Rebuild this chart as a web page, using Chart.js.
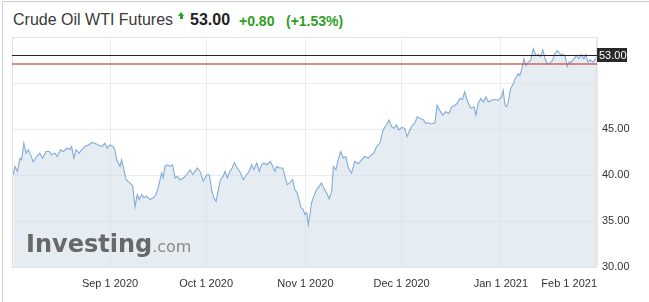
<!DOCTYPE html>
<html><head><meta charset="utf-8">
<script src="https://cdn.jsdelivr.net/npm/chart.js@4.4.0/dist/chart.umd.min.js"></script>
<style>
html,body{margin:0;padding:0;background:#fff;}
#wrap{position:relative;width:649px;height:302px;overflow:hidden;font-family:"Liberation Sans",Arial,sans-serif;}
#frame{position:absolute;left:2px;top:1px;width:660px;height:310px;border-left:1px solid #cfcfcf;border-top:1px solid #cfcfcf;}
.t{position:absolute;white-space:nowrap;line-height:20px;}
#name{left:13px;top:10px;font-size:16px;color:#3a3a3a;}
#last{left:190px;top:10px;font-size:16px;font-weight:bold;color:#222;}
#chg{left:239px;top:11px;font-size:14px;font-weight:bold;color:#2f9e26;}
#pct{left:286px;top:11px;font-size:14px;font-weight:bold;color:#2f9e26;}
#arrow{position:absolute;left:178px;top:12px;width:0;height:0;border-left:3.5px solid transparent;border-right:3.5px solid transparent;border-bottom:4px solid #2f9e26;}
#stem{position:absolute;left:180px;top:16px;width:3px;height:3px;background:#2f9e26;}
canvas{position:absolute;left:0;top:0;}
</style>
</head>
<body>
<div id="wrap">
  <div id="frame"></div>
  <div class="t" id="name">Crude Oil WTI Futures</div>
  <div id="arrow"></div><div id="stem"></div>
  <div class="t" id="last">53.00</div>
  <div class="t" id="chg">+0.80</div>
  <div class="t" id="pct">(+1.53%)</div>
  <canvas id="c" width="649" height="302"></canvas>
</div>
<script>
// x values: days since 2020-08-01
const days = [0.8,1.3,2.1,2.9,3.4,4.1,4.8,5.5,6.2,7.0,8.1,9.1,10.0,11.0,12.0,12.8,13.8,14.5,15.6,16.4,17.5,18.5,19.0,19.7,20.4,21.4,22.1,23.2,24.2,25.3,26.3,27.3,28.4,29.4,30.1,31.0,32.0,32.5,33.1,33.6,34.1,34.6,35.1,36.0,37.2,38.1,38.8,39.5,40.1,40.9,41.6,42.4,43.5,44.5,45.3,46.0,47.1,47.6,48.1,49.0,49.7,50.5,51.3,52.0,52.8,53.9,54.9,56.0,56.8,57.5,58.2,59.1,60.1,61.2,62.0,62.7,63.4,64.1,64.8,65.5,66.3,66.9,67.6,68.4,69.1,69.8,70.7,71.5,72.6,73.6,74.4,75.2,75.9,76.8,77.6,78.3,79.0,79.9,81.1,81.8,82.5,83.0,83.8,84.9,85.6,86.3,87.1,88.0,88.7,89.4,90.0,90.6,91.3,91.8,92.4,92.9,93.4,93.9,94.6,95.5,96.3,97.0,97.7,98.6,99.4,100.2,100.7,101.5,102.2,103.0,103.8,104.6,105.4,106.4,107.4,108.5,109.5,110.5,111.6,112.6,113.3,114.2,115.2,116.1,116.8,117.3,118.1,118.9,119.6,120.4,121.2,122.0,123.0,123.7,124.6,125.4,126.1,126.9,127.7,128.7,129.6,130.3,131.3,132.4,133.1,133.9,134.8,135.8,136.8,137.6,138.6,139.3,140.2,141.0,141.7,142.3,143.1,143.8,144.6,145.2,145.9,146.7,147.5,148.3,149.1,150.1,151.1,152.2,153.2,153.7,154.3,154.8,155.3,156.0,156.9,157.4,157.9,158.4,158.9,159.4,160.2,160.8,161.5,162.3,163.1,163.9,164.7,165.4,166.1,166.8,167.5,168.3,169.1,169.8,170.6,171.4,172.2,173.0,173.7,174.3,175.0,175.8,176.6,177.4,178.1,178.9,179.5,180.2,180.9,181.8,182.6,183.0];
const prices = [40.03,40.93,40.39,41.84,41.65,43.45,42.38,42.73,42.19,41.47,42.01,42.38,41.84,42.55,42.55,42.19,42.38,42.01,42.73,42.55,42.91,42.80,43.09,41.84,42.73,42.38,42.73,43.09,43.27,43.52,43.45,43.27,43.09,43.45,42.91,43.27,43.09,42.73,41.65,41.30,40.93,41.65,40.93,39.49,39.14,38.77,36.54,37.87,37.33,37.87,37.52,37.69,37.33,37.52,37.87,38.59,40.21,39.68,40.93,41.11,40.93,41.11,39.68,39.85,39.49,39.68,40.03,40.57,40.03,40.39,40.76,40.39,39.31,40.03,40.03,38.41,37.52,37.15,38.41,39.49,39.85,40.39,39.68,40.39,40.76,41.36,40.76,40.39,39.49,40.03,40.39,41.11,40.57,41.30,40.39,41.11,41.30,41.11,41.47,40.93,40.39,40.93,40.76,40.76,39.85,38.95,39.14,39.49,38.41,38.06,37.33,36.44,36.25,35.71,35.90,34.63,35.71,36.98,37.69,38.41,38.77,39.14,38.59,38.06,37.40,38.23,40.93,40.57,41.65,42.55,41.84,42.01,40.76,40.21,41.47,41.22,41.65,42.01,41.84,42.19,42.38,43.09,43.45,44.71,45.25,45.43,45.97,45.25,45.07,45.43,44.89,45.18,45.07,44.17,44.89,45.43,45.61,46.33,46.15,46.04,45.61,45.68,45.54,45.68,47.59,47.05,46.51,46.87,46.69,47.41,47.59,47.77,48.32,48.21,49.03,48.32,47.59,47.23,47.41,46.51,47.77,48.32,47.95,48.49,47.95,48.13,48.21,48.13,48.49,49.21,47.59,47.41,47.95,49.39,49.93,50.47,50.65,51.01,50.83,51.37,52.63,51.91,52.27,52.45,53.71,52.99,53.10,52.88,53.60,52.63,52.09,52.16,52.45,53.17,53.53,53.17,53.10,52.99,51.80,52.27,52.27,52.63,52.99,52.63,53.10,52.63,53.10,52.27,52.52,52.27,52.63,53.00];
const tickDays = [31, 61, 92, 122, 153, 183];
const tickLabels = ['Sep 1 2020','Oct 1 2020','Nov 1 2020','Dec 1 2020','Jan 1 2021','Feb 1 2021'];
const yTicks = [30, 35, 40, 45, 50, 55];
const yLabelled = [30, 35, 40, 45];
const lastPrice = 53.00;
const prevClose = 52.20;
const xMin = 0.4, xMax = 183;
const yMin = 30, yMax = 55;

const overlay = {
  id: 'overlay',
  afterDatasetsDraw(chart) {
    const {ctx, chartArea: a, scales: {y}} = chart;
    ctx.save();
    ctx.globalAlpha = 1;
    ctx.setLineDash([]);
    // plot border
    ctx.strokeStyle = '#e2e2e2';
    ctx.lineWidth = 1;
    ctx.strokeRect(a.left + 0.5, a.top + 0.5, a.right - a.left - 1, a.bottom - a.top);
    // logo watermark
    ctx.textBaseline = 'alphabetic';
    ctx.textAlign = 'left';
    ctx.fillStyle = '#686868';
    ctx.font = 'bold 24px "DejaVu Sans"';
    ctx.fillText('Investing', 26, 252);
    const w = ctx.measureText('Investing').width;
    ctx.fillStyle = '#8a8a8a';
    ctx.font = '16px "DejaVu Sans"';
    ctx.fillText('.com', 26 + w, 252);
    // previous close line (red), spread over two rows
    const yp = Math.round(y.getPixelForValue(prevClose));
    ctx.fillStyle = 'rgba(205,80,70,0.65)';
    ctx.fillRect(a.left, yp, a.right - a.left, 2);
    // last price line (black)
    const yl = Math.round(y.getPixelForValue(lastPrice));
    ctx.fillStyle = '#222222';
    ctx.fillRect(a.left, yl, a.right - a.left, 1);
    // badge
    ctx.fillStyle = '#2a2a2a';
    ctx.fillRect(a.right, yl - 7, 30, 14);
    ctx.fillStyle = '#fff';
    ctx.font = '11px "Liberation Sans", Arial';
    ctx.textBaseline = 'middle';
    ctx.fillText(lastPrice.toFixed(2), a.right + 2, yl + 0.5);
    ctx.restore();
  }
};

new Chart(document.getElementById('c'), {
  type: 'line',
  data: {
    datasets: [{
      data: days.map((d, i) => ({x: d, y: prices[i]})),
      borderColor: '#82acd7',
      borderWidth: 1.1,
      backgroundColor: 'rgba(203,219,231,0.5)',
      fill: 'start',
      pointRadius: 0,
      tension: 0
    }]
  },
  options: {
    responsive: false,
    animation: false,
    devicePixelRatio: 1,
    layout: {padding: {left: 12, top: 37, right: 0, bottom: 0}},
    plugins: {legend: {display: false}, tooltip: {enabled: false}},
    scales: {
      x: {
        type: 'linear', min: xMin, max: xMax,
        afterBuildTicks: s => { s.ticks = [xMin, ...tickDays].map(v => ({value: v})); },
        afterFit: s => { s.height = 35; },
        grid: {color: '#ececec', drawTicks: false},
        border: {display: false},
        ticks: {
          autoSkip: false, maxRotation: 0, align: 'inner', padding: 10,
          color: '#333', font: {family: '"Liberation Sans", Arial', size: 11},
          callback: v => { const i = tickDays.indexOf(v); return i >= 0 ? tickLabels[i] : ''; }
        }
      },
      y: {
        position: 'right', min: yMin, max: yMax,
        afterBuildTicks: s => { s.ticks = yTicks.map(v => ({value: v})); },
        afterFit: s => { s.width = 52; },
        grid: {color: '#ececec', drawTicks: false},
        border: {display: false},
        ticks: {
          padding: 5, color: '#333', font: {family: '"Liberation Sans", Arial', size: 11},
          callback: v => yLabelled.includes(v) ? v.toFixed(2) : ''
        }
      }
    }
  },
  plugins: [overlay]
});
</script>
</body></html>
